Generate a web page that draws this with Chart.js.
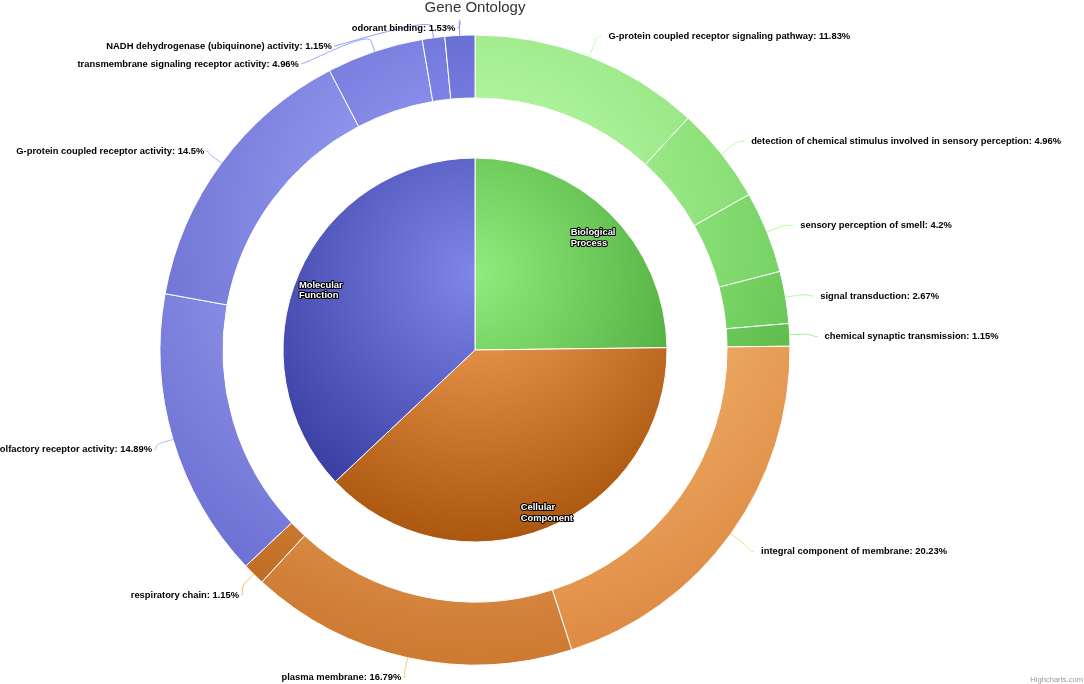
<!DOCTYPE html>
<html>
<head>
<meta charset="utf-8">
<title>Gene Ontology</title>
<script src="https://cdn.jsdelivr.net/npm/chart.js@4/dist/chart.umd.min.js"></script>
<style>
  html, body { margin: 0; padding: 0; background: #ffffff; }
  #wrap { position: relative; width: 1084px; height: 684px; }
  canvas { display: block; }
</style>
</head>
<body>
<div id="wrap"><canvas id="chart" width="1084" height="684"></canvas></div>
<script>
// ---------- data ----------
const chartTitle = 'Gene Ontology';
const creditText = 'Highcharts.com';
const categories = ['Biological Process', 'Cellular Component', 'Molecular Function'];
const categoryShares = [24.81, 38.17, 37.03];
const termNames = [
  'G-protein coupled receptor signaling pathway',
  'detection of chemical stimulus involved in sensory perception',
  'sensory perception of smell',
  'signal transduction',
  'chemical synaptic transmission',
  'integral component of membrane',
  'plasma membrane',
  'respiratory chain',
  'olfactory receptor activity',
  'G-protein coupled receptor activity',
  'transmembrane signaling receptor activity',
  'NADH dehydrogenase (ubiquinone) activity',
  'odorant binding'
];
const termShares = [11.83, 4.96, 4.2, 2.67, 1.15, 20.23, 16.79, 1.15, 14.89, 14.5, 4.96, 1.15, 1.53];
const termCategory = [0, 0, 0, 0, 0, 1, 1, 1, 2, 2, 2, 2, 2];

// ---------- colours (Highcharts-like radial gradients) ----------
const baseColors = ['#90ed7d', '#f7a35c', '#8085e9'];
function toRgb(h) { return [1, 3, 5].map(i => parseInt(h.substr(i, 2), 16)); }
function brighten(c, a) { const d = parseInt(a * 255, 10); return c.map(v => Math.max(0, Math.min(255, v + d))); }
function css(c) { return 'rgb(' + c[0] + ',' + c[1] + ',' + c[2] + ')'; }
const catStops = baseColors.map(h => { const b = toRgb(h); return [css(b), css(brighten(b, -0.3))]; });
const termStops = termNames.map((_, i) => {
  const k = termCategory[i];
  const members = [];
  termCategory.forEach((c, idx) => { if (c === k) members.push(idx); });
  const j = members.indexOf(i);
  const b = 0.2 - (j / members.length) / 5;
  const base = toRgb(baseColors[k]);
  return [css(brighten(base, b)), css(brighten(brighten(base, -0.3), b))];
});

function radial(chart, dsIndex, stops) {
  const a = chart.chartArea;
  if (!a) return stops[0];
  const meta = chart.getDatasetMeta(dsIndex);
  const R = (meta && meta.controller && meta.controller.outerRadius) || 300;
  const cx = (a.left + a.right) / 2, cy = (a.top + a.bottom) / 2;
  const size = 2 * R;
  const gy = cy - R + 0.3 * size;
  const g = chart.ctx.createRadialGradient(cx, gy, 0, cx, gy, 0.7 * size);
  g.addColorStop(0, stops[0]);
  g.addColorStop(1, stops[1]);
  return g;
}

// ---------- label / title plugin ----------
const hcDecor = {
  id: 'hcDecor',
  afterDatasetsDraw(chart) {
    const ctx = chart.ctx, a = chart.chartArea;
    const cx = (a.left + a.right) / 2, cy = (a.top + a.bottom) / 2;

    // outer ring labels with connectors
    const meta = chart.getDatasetMeta(0);
    const R = meta.controller.outerRadius;
    const LR = R + 25, top = 25, bottom = 674, slot = 18;
    const pts = meta.data.map((arc, i) => {
      const ang = (arc.startAngle + arc.endAngle) / 2;
      return { i, ang, left: Math.cos(ang) < 0, ny: cy + LR * Math.sin(ang) };
    });
    [true, false].forEach(side => {
      const g = pts.filter(p => p.left === side).sort((p, q) => p.ny - q.ny);
      let prev = -1e9;
      g.forEach(p => { p.y = Math.max(p.ny, top, prev + slot); prev = p.y; });
      let next = 1e9;
      for (let k = g.length - 1; k >= 0; k--) { const p = g[k]; p.y = Math.min(p.y, bottom, next - slot); next = p.y; }
    });
    const getX = (y, left) => {
      const dy = Math.max(-LR, Math.min(LR, y - cy));
      return cx + (left ? -1 : 1) * Math.sqrt(LR * LR - dy * dy);
    };
    ctx.save();
    ctx.font = 'bold 9.4px "Liberation Sans", Arial, sans-serif';
    ctx.textBaseline = 'middle';
    pts.forEach(p => {
      const useNat = p.y < top + 2 || p.y > bottom - 2;
      const gx = getX(useNat ? p.ny : p.y, p.left);
      const ty = p.y + 3;
      const lx = cx + R * Math.cos(p.ang), ly = cy + R * Math.sin(p.ang);
      const bx = cx + (R + 11) * Math.cos(p.ang), by = cy + (R + 11) * Math.sin(p.ang);
      let sx = p.left ? Math.min(gx + 5, bx - 2) : Math.max(gx + 3, bx + 2);
      const c1x = p.left ? sx + 5 : sx - 5;
      ctx.beginPath();
      ctx.moveTo(sx, ty);
      ctx.bezierCurveTo(c1x, ty, 2 * bx - lx, 2 * by - ly, bx, by);
      ctx.lineTo(lx, ly);
      ctx.strokeStyle = termStops[p.i][0];
      ctx.lineWidth = 1;
      ctx.stroke();
      ctx.fillStyle = '#000000';
      ctx.textAlign = p.left ? 'right' : 'left';
      ctx.fillText(termNames[p.i] + ': ' + termShares[p.i] + '%', p.left ? sx - 2 : sx + 7, ty);
    });

    // inner pie labels
    const im = chart.getDatasetMeta(2);
    const ir = im.controller.outerRadius - 24;
    ctx.textAlign = 'left';
    ctx.lineJoin = 'round';
    im.data.forEach((arc, i) => {
      const ang = (arc.startAngle + arc.endAngle) / 2;
      const x = cx + ir * Math.cos(ang), y = cy + ir * Math.sin(ang) + 2;
      const lines = categories[i].split(' ');
      const x0 = x - ctx.measureText(lines[0]).width / 2;
      lines.forEach((ln, k) => {
        const yy = y + k * 10.5;
        ctx.strokeStyle = '#000000';
        ctx.lineWidth = 2.2;
        ctx.strokeText(ln, x0, yy);
        ctx.fillStyle = '#ffffff';
        ctx.fillText(ln, x0, yy);
      });
    });

    // title and credit
    ctx.textBaseline = 'alphabetic';
    ctx.textAlign = 'center';
    ctx.font = '15px "Liberation Sans", Arial, sans-serif';
    ctx.fillStyle = '#333333';
    ctx.fillText(chartTitle, cx, 12);
    ctx.textAlign = 'right';
    ctx.font = '7.6px "Liberation Sans", Arial, sans-serif';
    ctx.fillStyle = '#999999';
    ctx.fillText(creditText, 1083, 682);
    ctx.restore();
  }
};

// ---------- chart ----------
new Chart(document.getElementById('chart'), {
  type: 'doughnut',
  data: {
    labels: termNames,
    datasets: [
      {
        label: 'Terms',
        data: termShares,
        weight: 63,
        backgroundColor: c => radial(c.chart, 0, termStops[c.dataIndex] || termStops[0]),
        borderColor: '#ffffff',
        borderWidth: 1
      },
      {
        label: 'gap',
        data: [1],
        weight: 60,
        backgroundColor: 'rgba(0,0,0,0)',
        borderWidth: 0
      },
      {
        label: 'Categories',
        data: categoryShares,
        weight: 192,
        backgroundColor: c => radial(c.chart, 2, catStops[c.dataIndex] || catStops[0]),
        borderColor: '#ffffff',
        borderWidth: 1
      }
    ]
  },
  options: {
    responsive: false,
    devicePixelRatio: 1,
    animation: false,
    events: [],
    radius: 315,
    cutout: 0,
    layout: { padding: { left: 0, right: 134, top: 16, bottom: 0 } },
    plugins: {
      legend: { display: false },
      title: { display: false },
      tooltip: { enabled: false }
    }
  },
  plugins: [hcDecor]
});
</script>
</body>
</html>
